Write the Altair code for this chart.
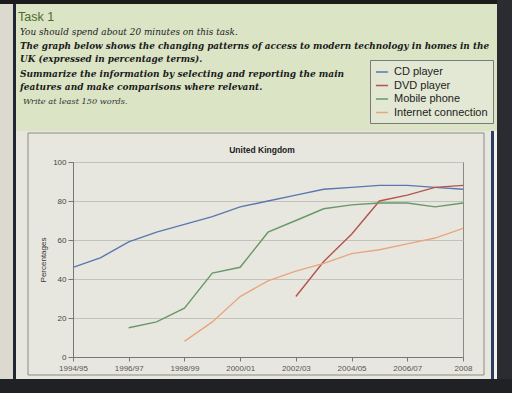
import altair as alt
import pandas as pd

periods = ["1994/95", "1995/96", "1996/97", "1997/98", "1998/99", "1999/00", "2000/01",
           "2001/02", "2002/03", "2003/04", "2004/05", "2005/06", "2006/07", "2007/08", "2008"]
tick_labels = ["1994/95", "1996/97", "1998/99", "2000/01", "2002/03", "2004/05", "2006/07", "2008"]
series_names = ["CD player", "DVD player", "Mobile phone", "Internet connection"]
series_colors = ["#5a77b0", "#b4554d", "#66996a", "#e8a67e"]

cd_player = [46, 51, 59, 64, 68, 72, 77, 80, 83, 86, 87, 88, 88, 87, 86]
dvd_player = [None, None, None, None, None, None, None, None, 31, 49, 63, 80, 83, 87, 88]
mobile_phone = [None, None, 15, 18, 25, 43, 46, 64, 70, 76, 78, 79, 79, 77, 79]
internet = [None, None, None, None, 8, 18, 31, 39, 44, 48, 53, 55, 58, 61, 66]

rows = []
for name, vals in zip(series_names, [cd_player, dvd_player, mobile_phone, internet]):
    for p, v in zip(periods, vals):
        if v is not None:
            rows.append({"period": p, "value": v, "series": name})
df = pd.DataFrame(rows)

OX, OY = 73, 162          # plot origin inside the 512x393 canvas
W, H = 390, 195

def rect(x1, y1, x2, y2, **kw):
    return alt.Chart().mark_rect(**kw).encode(
        x=alt.value(x1 - OX), x2=alt.value(x2 - OX),
        y=alt.value(y1 - OY), y2=alt.value(y2 - OY))

def text(s, x, y, **kw):
    base = dict(align="left", baseline="alphabetic")
    base.update(kw)
    return alt.Chart().mark_text(text=s, **base).encode(
        x=alt.value(x - OX), y=alt.value(y - OY))

serif = "DejaVu Serif"
deco = [
    rect(0, 0, 16, 393, color="#dcd9cf"),
    rect(16, 4, 498, 131, color="#dbe4c5"),
    rect(13, 0, 16, 393, color="#1f2734"),
    rect(0, 0, 512, 4, color="#1b1b1b"),
    rect(28, 133, 484, 375, fill="transparent", stroke="#8a8a84", strokeWidth=1),
    rect(491, 131, 494, 393, color="#2c3d5e"),
    rect(494, 131, 497, 393, color="#f2f2ee"),
    rect(497, 0, 512, 393, color="#2a2c31"),
    rect(0, 379, 512, 393, color="#1f2125"),
]

texts = [
    text("Task 1", 18, 21, font="Liberation Sans", fontSize=12.5, color="#4a6b2a"),
    text("You should spend about 20 minutes on this task.", 20, 35, font=serif,
         fontSize=8.9, fontStyle="italic", color="#222"),
    text("The graph below shows the changing patterns of access to modern technology in homes in the",
         20, 49, font=serif, fontSize=8.85, fontStyle="italic", fontWeight="bold", color="#1a1a1a"),
    text("UK (expressed in percentage terms).", 20, 62, font=serif, fontSize=8.85,
         fontStyle="italic", fontWeight="bold", color="#1a1a1a"),
    text("Summarize the information by selecting and reporting the main", 20, 77, font=serif,
         fontSize=9, fontStyle="italic", fontWeight="bold", color="#1a1a1a"),
    text("features and make comparisons where relevant.", 20, 90, font=serif, fontSize=9,
         fontStyle="italic", fontWeight="bold", color="#1a1a1a"),
    text("Write at least 150 words.", 23, 104, font=serif, fontSize=8.2,
         fontStyle="italic", color="#333"),
    text("United Kingdom", 262, 153, align="center", font="Liberation Sans", fontSize=8.5,
         fontWeight="bold", color="#222"),
]

lines = alt.Chart(df).mark_line(strokeWidth=1.4).encode(
    x=alt.X("period:O", sort=periods, scale=alt.Scale(type="point", padding=0),
            axis=alt.Axis(values=tick_labels, labelAngle=0, title=None, grid=False,
                          labelFont="Liberation Sans", labelFontSize=8, labelColor="#555",
                          domainColor="#777", tickColor="#777", tickSize=4, labelPadding=3)),
    y=alt.Y("value:Q", scale=alt.Scale(domain=[0, 100]),
            axis=alt.Axis(values=[0, 20, 40, 60, 80, 100], title="Percentages",
                          grid=True, gridColor="#c2c2ba", domainColor="#777", tickColor="#777",
                          tickSize=5, labelFont="Liberation Sans", labelFontSize=8,
                          labelColor="#444", titleFont="Liberation Sans", titleFontSize=8,
                          titleFontWeight="normal", titleColor="#333", titlePadding=5,
                          labelPadding=2)),
    color=alt.Color("series:N", scale=alt.Scale(domain=series_names, range=series_colors),
                    legend=alt.Legend(orient="none", legendX=370 - OX, legendY=60 - OY,
                                      title=None, symbolType="stroke", symbolSize=150,
                                      symbolStrokeWidth=1.5, strokeColor="#7a7a7a",
                                      fillColor="#e2e8d4", padding=5, rowPadding=1.5,
                                      labelFont="Liberation Sans", labelFontSize=11,
                                      labelColor="#222", labelOffset=5)),
    order=alt.Order("period:O"),
)

chart = alt.layer(*deco, *texts, lines).properties(
    width=W, height=H,
    padding={"left": OX, "top": OY, "right": 512 - OX - W, "bottom": 393 - OY - H},
    autosize=alt.AutoSizeParams(type="none"),
    background="#e8e7df",
).configure_view(stroke="#8a8a84")

chart.save("out.html", embed_options={"renderer": "svg", "actions": False})
